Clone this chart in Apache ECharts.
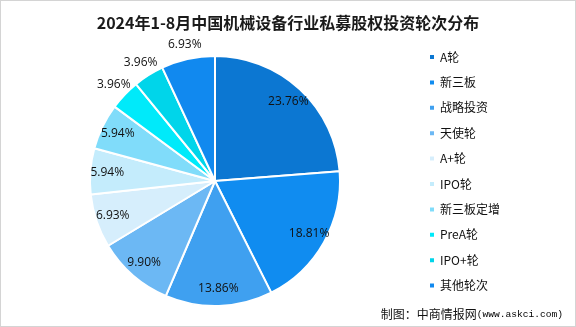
<!DOCTYPE html>
<html>
<head>
<meta charset="utf-8">
<script src="https://cdn.jsdelivr.net/npm/echarts@6/dist/echarts.min.js"></script>
<style>
html,body{margin:0;padding:0;background:#fff;}
#c{width:574px;height:325px;border:1px solid #d4d4d4;}
</style>
</head>
<body>
<div id="c"></div>
<script>
var categories = ['A轮','新三板','战略投资','天使轮','A+轮','IPO轮','新三板定增','PreA轮','IPO+轮','其他轮次'];
var values = [23.76, 18.81, 13.86, 9.90, 6.93, 5.94, 5.94, 3.96, 3.96, 6.93];
var colors = ['#0c77d2','#108cf0','#3fa0f0','#6cb8f4','#d6eefc','#c4ecfc','#80dcfa','#00eafa','#00d5ea','#1189ef'];
var outsideLabel = [false,false,false,false,false,false,false,true,true,true];

var chart = echarts.init(document.getElementById('c'), null, {renderer:'canvas'});
var mainData = categories.map(function(n,i){return {name:n, value:values[i], itemStyle:{color:colors[i]}};});
function labelData(outer){
  return categories.map(function(n,i){
    return {name:n, value:values[i], label:{show: outsideLabel[i]===outer}};
  });
}
var fmt = function(p){ return p.value.toFixed(2) + '%'; };
var labelFont = {fontFamily:'"Open Sans","DejaVu Sans",sans-serif', fontSize:12, color:'#111'};
chart.setOption({
  animation:false,
  title:{text:'2024年1-8月中国机械设备行业私募股权投资轮次分布', left:'center', top:9,
    textStyle:{fontSize:16, fontWeight:'bold', color:'#1a1a1a', fontFamily:'"Noto Sans CJK SC",sans-serif'}},
  legend:{orient:'vertical', left:422, top:45, itemWidth:6, itemHeight:6, itemGap:13.4, icon:'rect',
    data:categories, selectedMode:false,
    textStyle:{fontSize:12, color:'#111', fontFamily:'"Noto Sans CJK SC",sans-serif'}},
  graphic:[{type:'text', right:12, top:307, style:{
    text:'{a|制图：中商情报网}{b|(www.askci.com)}',
    rich:{a:{fontSize:12, fill:'#111', color:'#111', fontFamily:'"Noto Sans CJK SC",sans-serif'},
          b:{fontSize:9.6, color:'#111', fontFamily:'"Liberation Mono","DejaVu Sans Mono",monospace'}}}}],
  series:[
    {type:'pie', center:[214,180], radius:[0,125], startAngle:90, clockwise:true, data:mainData,
      label:{show:false}, labelLine:{show:false}, itemStyle:{borderColor:'#fff', borderWidth:2},
      emphasis:{disabled:true}, silent:true},
    {type:'pie', center:[214,180], radius:[85,125], startAngle:90, clockwise:true, data:labelData(false),
      itemStyle:{color:'rgba(0,0,0,0)'}, label:Object.assign({position:'inside', formatter:fmt}, labelFont),
      labelLine:{show:false}, emphasis:{disabled:true}, silent:true, legendHoverLink:false},
    {type:'pie', center:[214,180], radius:[118,156], startAngle:90, clockwise:true, data:labelData(true),
      itemStyle:{color:'rgba(0,0,0,0)'}, label:Object.assign({position:'inside', formatter:fmt}, labelFont),
      labelLine:{show:false}, emphasis:{disabled:true}, silent:true, legendHoverLink:false}
  ]
});
</script>
</body>
</html>
